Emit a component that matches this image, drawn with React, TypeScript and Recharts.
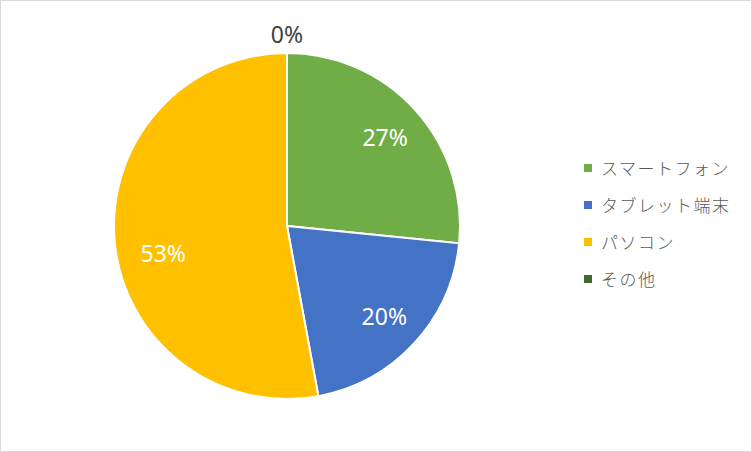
import React from "react";
import { PieChart, Pie, Cell, Legend } from "recharts";

const categories = ["スマートフォン", "タブレット端末", "パソコン", "その他"];
const values = [26.6, 20.5, 52.9, 0];
const labels = ["27%", "20%", "53%", "0%"];
const colors = ["#70AD47", "#4472C4", "#FFC000", "#43682B"];

const data = categories.map((name, i) => ({ name, value: values[i], label: labels[i] }));

const RAD = Math.PI / 180;

const renderLabel = (props: any) => {
  const { cx, cy, midAngle, outerRadius, index, percent } = props;
  const v = values[index];
  const inside = v > 0;
  const r = inside ? outerRadius * 0.765 : outerRadius + 19;
  let x = cx + r * Math.cos(-midAngle * RAD);
  let y = cy + r * Math.sin(-midAngle * RAD);
  // large slice label is nudged the way the source placed it
  if (inside && percent > 0.5) {
    x += 8;
    y += 15;
  }
  return (
    <text
      x={x}
      y={y}
      textAnchor="middle"
      dominantBaseline="central"
      fill={inside ? "#FFFFFF" : "#404040"}
      fontSize={23}
      fontFamily="'Noto Sans', 'DejaVu Sans', sans-serif"
    >
      {labels[index]}
    </text>
  );
};

const renderLegend = () => (
  <div style={{ position: "absolute", left: 0, top: 0 }}>
    {categories.map((c, i) => (
      <div
        key={c}
        style={{
          position: "absolute",
          left: 584,
          top: 157 + i * 37,
          display: "flex",
          alignItems: "center",
          whiteSpace: "nowrap",
        }}
      >
        <span
          style={{
            display: "inline-block",
            width: 8,
            height: 8,
            background: colors[i],
            marginRight: 9,
          }}
        />
        <span
          style={{
            fontFamily: "'Noto Sans CJK JP', sans-serif",
            fontSize: 17,
            letterSpacing: 1.5,
            color: "#595959",
            lineHeight: "22px",
            fontWeight: 300,
          }}
        >
          {c}
        </span>
      </div>
    ))}
  </div>
);

export default function App() {
  return (
    <div
      style={{
        position: "absolute",
        left: 0,
        top: 0,
        width: 752,
        height: 452,
        boxSizing: "border-box",
        border: "1px solid #D9D9D9",
        background: "#FFFFFF",
      }}
    >
      <div style={{ position: "absolute", left: -1, top: -1 }}>
        <PieChart width={752} height={452} margin={{ top: 0, right: 0, bottom: 0, left: 0 }}>
          <Pie
            data={data}
            dataKey="value"
            nameKey="name"
            cx={287}
            cy={226}
            outerRadius={173}
            startAngle={90}
            endAngle={-270}
            stroke="#FFFFFF"
            strokeWidth={2}
            label={renderLabel}
            labelLine={false}
            isAnimationActive={false}
          >
            {data.map((d, i) => (
              <Cell key={d.name} fill={colors[i]} />
            ))}
          </Pie>
          <Legend content={renderLegend} wrapperStyle={{ left: 0, top: 0, width: 752, height: 452 }} />
        </PieChart>
      </div>
    </div>
  );
}
